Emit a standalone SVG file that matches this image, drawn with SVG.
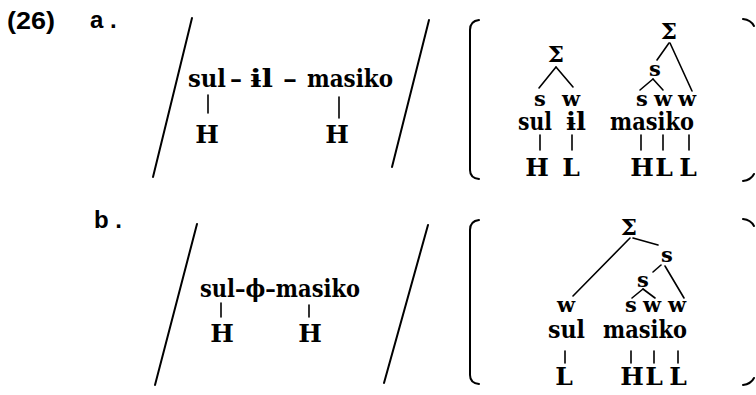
<svg xmlns="http://www.w3.org/2000/svg" width="756" height="395" viewBox="0 0 756 395">
  <style>
    .lbl { font-family: "Liberation Sans", Arial, sans-serif; font-weight: bold; font-size: 24px; fill: #000; }
    .w { font-family: "DejaVu Serif", "Liberation Serif", serif; font-weight: bold; font-size: 25px; fill: #000; }
    .t { font-family: "DejaVu Serif", "Liberation Serif", serif; font-weight: bold; font-size: 21px; fill: #000; text-anchor: middle; }
    .sig { font-family: "DejaVu Serif", "Liberation Serif", serif; font-weight: bold; font-size: 23px; fill: #000; text-anchor: middle; }
    .tone { font-family: "DejaVu Serif", "Liberation Serif", serif; font-weight: bold; font-size: 25px; fill: #000; text-anchor: middle; }
    .ln { stroke: #000; stroke-width: 1.6; fill: none; stroke-linecap: round; }
    .sl { stroke: #000; stroke-width: 2; fill: none; stroke-linecap: round; }
  </style>
  <rect width="756" height="395" fill="#fff"/>

  <!-- example number and sub-labels -->
  <g id="labels">
    <text class="lbl" x="7" y="29" textLength="48" lengthAdjust="spacingAndGlyphs">(26)</text>
    <text class="lbl" x="90" y="28">a .</text>
    <text class="lbl" x="94" y="228">b .</text>
  </g>

  <!-- (a) underlying form between slashes -->
  <g id="a-underlying">
    <line class="sl" x1="192" y1="18" x2="153" y2="177"/>
    <line class="sl" x1="429" y1="20" x2="392" y2="167"/>
    <text class="w" x="188" y="87" textLength="38" lengthAdjust="spacingAndGlyphs">sul</text>
    <text class="w" x="230" y="87" textLength="12" lengthAdjust="spacingAndGlyphs">–</text>
    <text class="w" x="250" y="87" textLength="23" lengthAdjust="spacingAndGlyphs">ɨl</text>
    <text class="w" x="283" y="87" textLength="14" lengthAdjust="spacingAndGlyphs">–</text>
    <text class="w" x="307" y="87" textLength="86" lengthAdjust="spacingAndGlyphs">masiko</text>
    <line class="ln" x1="208" y1="95" x2="208" y2="113"/>
    <line class="ln" x1="339" y1="97" x2="339" y2="118"/>
    <text class="tone" x="207" y="143">H</text>
    <text class="tone" x="337" y="143">H</text>
  </g>

  <!-- (a) surface structure in brackets -->
  <g id="a-bracket">
    <path class="sl" d="M479,20 Q470,21 470,30 L470,170 Q470,178 479,179"/>
    <path class="sl" d="M743,19 Q751,20 754,26"/>
    <path class="sl" d="M743,181 Q751,180 754,174"/>
  </g>

  <g id="a-foot1">
    <text class="sig" x="556" y="62">Σ</text>
    <text class="t" x="540" y="106">s</text>
    <text class="t" x="571" y="106">w</text>
    <text class="w" x="518" y="130" font-size="23" textLength="34" lengthAdjust="spacingAndGlyphs">sul</text>
    <text class="w" x="566" y="130" font-size="23" textLength="20" lengthAdjust="spacingAndGlyphs">ɨl</text>
    <text class="tone" x="537" y="176">H</text>
    <text class="tone" x="571" y="176">L</text>
  </g>

  <g id="a-foot2">
    <text class="sig" x="669" y="39">Σ</text>
    <text class="t" x="655" y="76">s</text>
    <text class="t" x="642" y="106">s</text>
    <text class="t" x="663" y="106">w</text>
    <text class="t" x="687" y="106">w</text>
    <text class="w" x="610" y="130" font-size="23" textLength="84" lengthAdjust="spacingAndGlyphs">masiko</text>
    <text class="tone" x="642" y="176">H</text>
    <text class="tone" x="664" y="176">L</text>
    <text class="tone" x="688" y="176">L</text>
  </g>

  <!-- (b) underlying form between slashes -->
  <g id="b-underlying">
    <line class="sl" x1="197" y1="224" x2="155" y2="385"/>
    <line class="sl" x1="428" y1="225" x2="384" y2="383"/>
    <text class="w" x="200" y="297" font-size="24" textLength="160" lengthAdjust="spacingAndGlyphs">sul–ϕ–masiko</text>
    <line class="ln" x1="221" y1="303" x2="221" y2="317"/>
    <line class="ln" x1="309" y1="305" x2="309" y2="317"/>
    <text class="tone" x="222" y="342">H</text>
    <text class="tone" x="310" y="342">H</text>
  </g>

  <!-- (b) surface structure in brackets -->
  <g id="b-bracket">
    <path class="sl" d="M479,220 Q470,221 470,230 L470,375 Q470,383 479,384"/>
    <path class="sl" d="M743,219 Q751,220 754,226"/>
    <path class="sl" d="M743,385 Q751,384 754,378"/>
  </g>

  <g id="b-tree">
    <text class="sig" x="629" y="235">Σ</text>
    <text class="t" x="667" y="262">s</text>
    <text class="t" x="643" y="287">s</text>
    <text class="t" x="566" y="312">w</text>
    <text class="t" x="631" y="312">s</text>
    <text class="t" x="652" y="312">w</text>
    <text class="t" x="677" y="312">w</text>
    <text class="w" x="548" y="338" font-size="23" textLength="37" lengthAdjust="spacingAndGlyphs">sul</text>
    <text class="w" x="603" y="338" font-size="23" textLength="84" lengthAdjust="spacingAndGlyphs">masiko</text>
    <text class="tone" x="564" y="385">L</text>
    <text class="tone" x="632" y="385">H</text>
    <text class="tone" x="654" y="385">L</text>
    <text class="tone" x="678" y="385">L</text>
  </g>

  <!-- tree branches and association lines -->
  <g id="connectors">
    <line class="ln" x1="556" y1="67" x2="539" y2="88"/>
    <line class="ln" x1="556" y1="67" x2="573" y2="87"/>
    <line class="ln" x1="540" y1="135" x2="540" y2="150"/>
    <line class="ln" x1="572" y1="135" x2="572" y2="150"/>

    <line class="ln" x1="669" y1="43" x2="657" y2="60"/>
    <line class="ln" x1="670" y1="43" x2="692" y2="91"/>
    <line class="ln" x1="653" y1="79" x2="640" y2="90"/>
    <line class="ln" x1="653" y1="79" x2="663" y2="90"/>
    <line class="ln" x1="641" y1="135" x2="641" y2="150"/>
    <line class="ln" x1="663" y1="135" x2="663" y2="150"/>
    <line class="ln" x1="689" y1="135" x2="689" y2="150"/>

    <line class="ln" x1="630" y1="238" x2="573" y2="296"/>
    <line class="ln" x1="633" y1="238" x2="658" y2="245"/>
    <line class="ln" x1="661" y1="265" x2="653" y2="272"/>
    <line class="ln" x1="665" y1="266" x2="684" y2="298"/>
    <line class="ln" x1="643" y1="289" x2="632" y2="298"/>
    <line class="ln" x1="643" y1="289" x2="655" y2="298"/>
    <line class="ln" x1="565" y1="351" x2="565" y2="363"/>
    <line class="ln" x1="631" y1="351" x2="631" y2="363"/>
    <line class="ln" x1="654" y1="351" x2="654" y2="363"/>
    <line class="ln" x1="678" y1="351" x2="678" y2="363"/>
  </g>
</svg>
